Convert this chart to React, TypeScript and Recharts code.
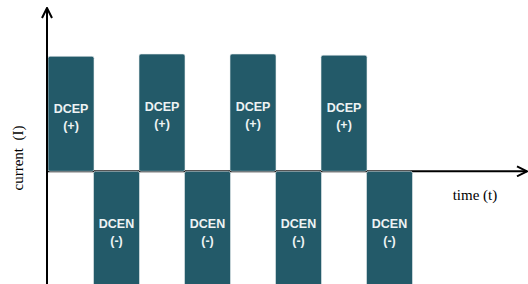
import { ComposedChart, Bar, XAxis, YAxis, ReferenceLine, LabelList, Cell } from "recharts";

// square wave: alternating positive / negative half-cycles
const slots = ["p1", "n1", "p2", "n2", "p3", "n3", "p4", "n4"];
const current = [1.0, -1, 1.02, -1, 1.02, -1, 1.01, -1];
const polarity = ["DCEP", "DCEN", "DCEP", "DCEN", "DCEP", "DCEN", "DCEP", "DCEN"];
const sign = ["(+)", "(-)", "(+)", "(-)", "(+)", "(-)", "(+)", "(-)"];

const data = slots.map((slot, i) => ({ slot, current: current[i], polarity: polarity[i], sign: sign[i] }));

const BAR = "#235a69";

function BarText(props: any) {
  const { x, y, width, height, index } = props;
  const top = Math.min(y, y + height);
  const cx = x + width / 2;
  const style = { fill: "#eef3f4", fontSize: 12.5, fontWeight: 700, fontFamily: "'Liberation Sans Narrow', 'Liberation Sans', Arial, sans-serif" };
  return (
    <g>
      <text x={cx} y={top + 53} textAnchor="middle" dominantBaseline="central" style={style}>{polarity[index]}</text>
      <text x={cx} y={top + 70} textAnchor="middle" dominantBaseline="central" style={style}>{sign[index]}</text>
    </g>
  );
}

function YTitle(props: any) {
  const { viewBox } = props;
  const x = viewBox.x + 18;
  const y = viewBox.y + viewBox.height / 2 + 12;
  return (
    <text x={x} y={y} transform={`rotate(-90 ${x} ${y})`} textAnchor="middle" dominantBaseline="central"
      style={{ fontFamily: "'Liberation Serif', 'Times New Roman', serif", fontSize: 15, fill: "#000", whiteSpace: "pre" }}>
      current  (I)
    </text>
  );
}

function XTitle(props: any) {
  const { viewBox } = props;
  return (
    <text x={viewBox.x + viewBox.width - 52} y={viewBox.y + 24} textAnchor="middle" dominantBaseline="central"
      style={{ fontFamily: "'Liberation Serif', 'Times New Roman', serif", fontSize: 15, fill: "#000" }}>
      time (t)
    </text>
  );
}

export default function App() {
  return (
    <div style={{ position: "absolute", left: 0, top: 0, background: "#fff" }}>
      <ComposedChart width={528} height={284} data={data} margin={{ top: 8, right: 1, left: 0, bottom: 0 }} barCategoryGap={0} barGap={0}>
        <defs>
          <marker id="arrowHead" viewBox="0 0 12 12" refX={11} refY={6} markerWidth={12} markerHeight={12}
            orient="auto-start-reverse" markerUnits="userSpaceOnUse">
            <path d="M1,1 L11,6 L1,11" fill="none" stroke="#000" strokeWidth={2} />
          </marker>
        </defs>
        <XAxis dataKey="slot" hide padding={{ left: 1, right: 115 }} />
        <YAxis
          type="number"
          domain={[-0.98, 1.42]}
          allowDataOverflow
          width={47}
          tick={false}
          tickLine={false}
          axisLine={{ stroke: "#000", strokeWidth: 2, markerStart: "url(#arrowHead)" }}
          label={<YTitle />}
        />
        <ReferenceLine y={0} stroke="#000" strokeWidth={2} markerEnd="url(#arrowHead)" label={<XTitle />} zIndex={200} />
        <Bar dataKey="current" isAnimationActive={false} stroke="#e9eef0" strokeWidth={0.6} radius={2}>
          {data.map((d) => (
            <Cell key={d.slot} fill={BAR} />
          ))}
          <LabelList dataKey="current" content={<BarText />} />
        </Bar>
      </ComposedChart>
    </div>
  );
}
